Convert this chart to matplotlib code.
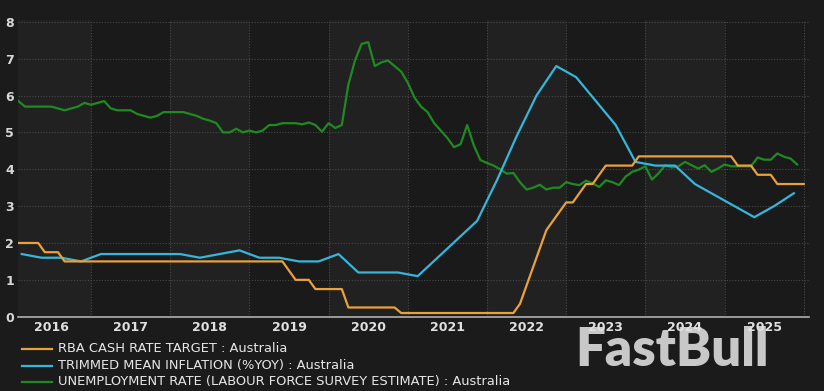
import numpy as np
import matplotlib
matplotlib.use("Agg")
import matplotlib.pyplot as plt
from matplotlib.lines import Line2D

## data
years = list(range(2016, 2026))

# RBA cash rate, monthly Jan 2016 - Dec 2025
cash_rate = ([2.0, 2.0, 2.0, 2.0, 1.75, 1.75, 1.75, 1.5, 1.5, 1.5, 1.5, 1.5]
             + [1.5] * 12
             + [1.5] * 12
             + [1.5, 1.5, 1.5, 1.5, 1.5, 1.25, 1.0, 1.0, 1.0, 0.75, 0.75, 0.75]
             + [0.75, 0.75, 0.25, 0.25, 0.25, 0.25, 0.25, 0.25, 0.25, 0.25, 0.1, 0.1]
             + [0.1] * 12
             + [0.1, 0.1, 0.1, 0.1, 0.35, 0.85, 1.35, 1.85, 2.35, 2.6, 2.85, 3.1]
             + [3.1, 3.35, 3.6, 3.6, 3.85, 4.1, 4.1, 4.1, 4.1, 4.1, 4.35, 4.35]
             + [4.35] * 12
             + [4.35, 4.1, 4.1, 4.1, 3.85, 3.85, 3.85, 3.6, 3.6, 3.6, 3.6, 3.6])

# trimmed mean inflation, quarterly
trimmed_mean = [1.7, 1.6, 1.6, 1.5, 1.7, 1.7, 1.7, 1.7, 1.7, 1.6,
                1.7, 1.8, 1.6, 1.6, 1.5, 1.5, 1.7, 1.2, 1.2, 1.2,
                1.1, 1.6, 2.1, 2.6, 3.7, 4.9, 6.0, 6.8, 6.5, 5.85,
                5.2, 4.2, 4.1, 4.1, 3.6, 3.3, 3.0, 2.7, 3.0, 3.35]

# unemployment rate, monthly Jan 2016 - Dec 2025
unemployment = [6.0, 5.85, 5.7, 5.7, 5.7, 5.7, 5.7, 5.65, 5.6, 5.65, 5.7, 5.8,
                5.75, 5.8, 5.85, 5.65, 5.6, 5.6, 5.6, 5.5, 5.45, 5.4, 5.45, 5.55,
                5.55, 5.55, 5.55, 5.5, 5.45, 5.37, 5.32, 5.25, 5.0, 5.0, 5.1, 5.0,
                5.05, 5.0, 5.05, 5.2, 5.2, 5.25, 5.25, 5.25, 5.22, 5.27, 5.2, 5.02,
                5.25, 5.12, 5.2, 6.3, 6.95, 7.4, 7.45, 6.8, 6.9, 6.95, 6.8, 6.65,
                6.35, 5.95, 5.7, 5.55, 5.25, 5.05, 4.85, 4.6, 4.68, 5.2, 4.65, 4.25,
                4.17, 4.1, 4.0, 3.88, 3.9, 3.65, 3.45, 3.5, 3.58, 3.45, 3.5, 3.5,
                3.65, 3.6, 3.57, 3.69, 3.62, 3.52, 3.7, 3.65, 3.57, 3.8, 3.93, 3.99,
                4.08, 3.72, 3.89, 4.11, 4.05, 4.08, 4.2, 4.11, 4.02, 4.11, 3.93, 4.02,
                4.13, 4.08, 4.08, 4.08, 4.08, 4.32, 4.26, 4.26, 4.43, 4.34, 4.29, 4.13]

labels = ["RBA CASH RATE TARGET : Australia",
          "TRIMMED MEAN INFLATION (%YOY) : Australia",
          "UNEMPLOYMENT RATE (LABOUR FORCE SURVEY ESTIMATE) : Australia"]
colors = ["#e9a13b", "#35b6da", "#1f8a22"]

# decimal-year positions
t_cash = 2016 + (np.arange(len(cash_rate)) + 1) / 12
t_unemp = 2016 + np.arange(len(unemployment)) / 12
t_infl = 2016.125 + 0.25 * np.arange(len(trimmed_mean))

narrow = ["Liberation Sans Narrow", "DejaVu Sans"]

fig = plt.figure(figsize=(8.24, 3.91), dpi=100, facecolor="#1b1b1b")
ax = fig.add_axes([18 / 824, 74.3 / 391, 791 / 824, 296.7 / 391])
ax.set_facecolor("#1a1a1a")

# alternating year bands
for y in years:
    if y % 2 == 0:
        ax.axvspan(y, y + 1, color="#212121", lw=0, zorder=0)

ax.plot(t_unemp, unemployment, color=colors[2], lw=1.6, zorder=3)
ax.plot(t_infl, trimmed_mean, color=colors[1], lw=1.6, zorder=4)
ax.plot(t_cash, cash_rate, color=colors[0], lw=1.6, zorder=5)

ax.set_xlim(2016.078, 2026.066)
ax.set_ylim(0, 8.05)

# grid
for v in range(1, 9):
    ax.axhline(v, color="#4a4a4a", lw=0.8, ls=(0, (1, 1.5)), zorder=1)
for y in range(2017, 2027):
    ax.axvline(y, color="#4a4a4a", lw=0.8, ls=(0, (1, 1.5)), zorder=1)

for s in ["top", "right", "left"]:
    ax.spines[s].set_visible(False)
ax.spines["bottom"].set_color("#b0b0b0")
ax.spines["bottom"].set_linewidth(1.2)

ax.set_yticks(range(0, 9))
ax.set_yticklabels([str(v) for v in range(0, 9)], color="#d8d8d8",
                   fontsize=9, fontweight="bold")
ax.set_xticks([y + 0.5 for y in years])
ax.set_xticklabels([str(y) for y in years], color="#e0e0e0", fontsize=9,
                   family=narrow, fontweight="bold")
ax.tick_params(axis="both", length=0)
ax.tick_params(axis="y", pad=3)
ax.tick_params(axis="x", pad=3)

# legend drawn by hand
rows = [349, 366, 382]
for lab, c, r in zip(labels, colors, rows):
    yy = 1 - r / 391
    fig.add_artist(Line2D([22 / 824, 52 / 824], [yy, yy], color=c, lw=1.6,
                          transform=fig.transFigure))
    fig.text(58 / 824, yy, lab, color="#e6e6e6", fontsize=9.4, family=narrow,
             va="center", ha="left")

# watermark, behind the year labels
fig.text(672 / 824, 1 - 350 / 391, "FastBull", color="#dcdcdc", alpha=0.9,
         fontsize=38, fontweight="heavy", family=["Lato", "DejaVu Sans"],
         ha="center", va="center", zorder=-1)

fig.savefig("out.png", dpi=100, facecolor=fig.get_facecolor())
